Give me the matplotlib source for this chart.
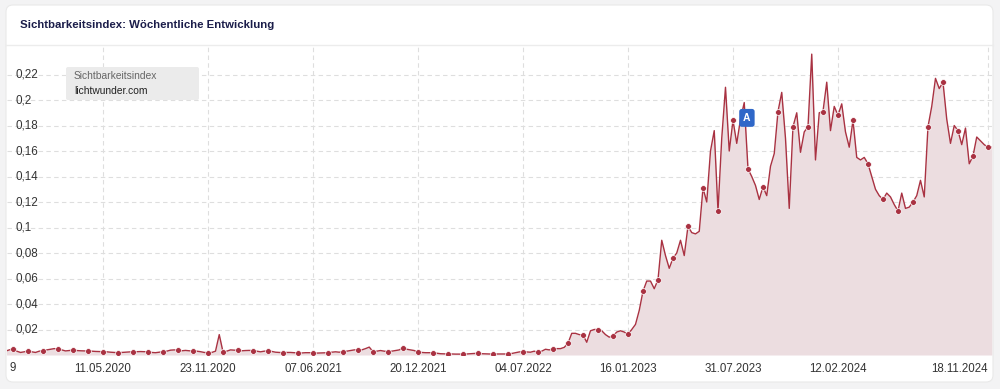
import numpy as np
import pandas as pd
import matplotlib
matplotlib.use("Agg")
import matplotlib.pyplot as plt
from matplotlib.patches import FancyBboxPatch
from matplotlib.transforms import IdentityTransform

plt.rcParams["font.family"] = ["Liberation Sans", "DejaVu Sans"]

# weekly visibility index, starting Monday 11.11.2019
start = "2019-11-11"
values = [
    0.0030, 0.0040, 0.0047, 0.0030, 0.0020, 0.0025, 0.0031, 0.0025, 0.0020, 0.0030,
    0.0034, 0.0040, 0.0045, 0.0050, 0.0047, 0.0040, 0.0032, 0.0035, 0.0039, 0.0035,
    0.0033, 0.0032, 0.0031, 0.0030, 0.0028, 0.0027, 0.0026, 0.0025, 0.0022, 0.0020,
    0.0018, 0.0020, 0.0022, 0.0024, 0.0026, 0.0026, 0.0027, 0.0026, 0.0026, 0.0020,
    0.0018, 0.0022, 0.0026, 0.0030, 0.0038, 0.0040, 0.0037, 0.0033, 0.0036, 0.0033,
    0.0031, 0.0030, 0.0026, 0.0020, 0.0018, 0.0020, 0.0030, 0.0160, 0.0024, 0.0030,
    0.0040, 0.0038, 0.0037, 0.0033, 0.0035, 0.0036, 0.0034, 0.0030, 0.0025, 0.0030,
    0.0031, 0.0028, 0.0022, 0.0020, 0.0018, 0.0020, 0.0020, 0.0018, 0.0016, 0.0016,
    0.0018, 0.0018, 0.0018, 0.0015, 0.0016, 0.0017, 0.0018, 0.0022, 0.0025, 0.0022,
    0.0026, 0.0030, 0.0035, 0.0040, 0.0042, 0.0040, 0.0050, 0.0062, 0.0026, 0.0030,
    0.0035, 0.0030, 0.0026, 0.0030, 0.0035, 0.0040, 0.0057, 0.0045, 0.0040, 0.0035,
    0.0021, 0.0020, 0.0018, 0.0018, 0.0018, 0.0014, 0.0010, 0.0009, 0.0008, 0.0008,
    0.0007, 0.0007, 0.0006, 0.0008, 0.0010, 0.0012, 0.0013, 0.0010, 0.0009, 0.0008,
    0.0008, 0.0008, 0.0008, 0.0008, 0.0008, 0.0012, 0.0018, 0.0024, 0.0026, 0.0024,
    0.0022, 0.0030, 0.0020, 0.0030, 0.0045, 0.0040, 0.0047, 0.0050, 0.0050, 0.0060,
    0.0092, 0.0170, 0.0170, 0.0160, 0.0157, 0.0100, 0.0190, 0.0200, 0.0200, 0.0190,
    0.0160, 0.0140, 0.0149, 0.0180, 0.0190, 0.0180, 0.0162, 0.0200, 0.0240, 0.0350,
    0.0500, 0.0580, 0.0580, 0.0520, 0.0590, 0.0900, 0.0780, 0.0680, 0.0760, 0.0800,
    0.0900, 0.0780, 0.1010, 0.0960, 0.0950, 0.0970, 0.1310, 0.1200, 0.1600, 0.1760,
    0.1130, 0.1700, 0.2100, 0.1600, 0.1840, 0.1660, 0.1850, 0.1980, 0.1460, 0.1400,
    0.1330, 0.1220, 0.1320, 0.1250, 0.1480, 0.1580, 0.1910, 0.2060, 0.1700, 0.1150,
    0.1790, 0.1900, 0.1590, 0.1750, 0.1790, 0.2360, 0.1530, 0.1900, 0.1910, 0.2140,
    0.1760, 0.1950, 0.1880, 0.1970, 0.1750, 0.1630, 0.1840, 0.1550, 0.1530, 0.1550,
    0.1500, 0.1400, 0.1300, 0.1250, 0.1220, 0.1270, 0.1240, 0.1180, 0.1130, 0.1270,
    0.1150, 0.1160, 0.1200, 0.1250, 0.1370, 0.1240, 0.1790, 0.1950, 0.2170, 0.2090,
    0.2140, 0.1850, 0.1660, 0.1800, 0.1760, 0.1650, 0.1780, 0.1500, 0.1560, 0.1710,
    0.1680, 0.1650, 0.1630, 0.1630,
]
dates = pd.date_range(start, periods=len(values), freq="7D")

tick_dates = ["2020-05-11", "2020-11-23", "2021-06-07", "2021-12-20", "2022-07-04",
              "2023-01-16", "2023-07-31", "2024-02-12", "2024-11-18"]
ytick_vals = [0.02, 0.04, 0.06, 0.08, 0.1, 0.12, 0.14, 0.16, 0.18, 0.2, 0.22]
ytick_labels = ["0,02", "0,04", "0,06", "0,08", "0,1", "0,12", "0,14", "0,16", "0,18", "0,2", "0,22"]
event_date = "2023-08-26"
event_value = 0.186

RED = "#a93242"
W, H = 1000, 389

fig = plt.figure(figsize=(W / 100, H / 100), dpi=100, facecolor="#f3f3f4")

# white card
card = FancyBboxPatch((6, 7), 987, 377, boxstyle="round,pad=0,rounding_size=7",
                      transform=IdentityTransform(), fc="white", ec="#e9e9e9", lw=0.8, zorder=-10)
fig.add_artist(card)
fig.add_artist(plt.Line2D([6, 993], [H - 45, H - 45], transform=IdentityTransform(),
                          color="#ececec", lw=1, zorder=-9))
fig.text(20 / W, 1 - 25 / H, "Sichtbarkeitsindex: Wöchentliche Entwicklung",
         fontsize=8.2, fontweight="bold", color="#1b1d4a", va="center", ha="left")

ax = fig.add_axes([7 / W, 34 / H, 985 / W, 308 / H])
ax.set_facecolor("none")

ax.fill_between(dates, values, 0, color="#ecdde0", lw=0, zorder=1)
ax.plot(dates, values, color=RED, lw=1.0, zorder=3,
        marker="o", markersize=4.2, markerfacecolor=RED, markeredgecolor="white",
        markeredgewidth=0.5, markevery=slice(2, None, 4))

t0 = pd.Timestamp(start)
ax.set_xlim(t0 + pd.Timedelta(days=0.4 * 7), t0 + pd.Timedelta(days=263.07 * 7))
ax.set_ylim(0, 0.2416)

ax.set_yticks(ytick_vals)
ax.tick_params(axis="y", length=0, labelleft=False)
for v, lab in zip(ytick_vals, ytick_labels):
    ax.text(8 / 985, v, lab, transform=ax.get_yaxis_transform(), ha="left", va="center",
            fontsize=8.4, color="#333333", zorder=4)

ax.set_xticks(pd.to_datetime(tick_dates))
ax.set_xticklabels([pd.Timestamp(d).strftime("%d.%m.%Y") for d in tick_dates])
ax.tick_params(axis="x", length=0, pad=5.5, labelsize=8.3, labelcolor="#333333")
ax.get_xticklabels()[-1].set_ha("right")
fig.text(9 / W, 1 - 368 / H, "9", fontsize=8.3, color="#333333", ha="left", va="center")

ax.grid(True, ls=(0, (4, 3)), color="#dedede", lw=0.8, zorder=0)
ax.set_axisbelow(True)
for s in ax.spines.values():
    s.set_visible(False)

# legend box
fig.add_artist(FancyBboxPatch((66, H - 100), 133, 33, boxstyle="round,pad=0,rounding_size=2",
                              transform=IdentityTransform(), fc="#ebebeb", ec="none", zorder=5))
fig.text(74 / W, 1 - 76 / H, "Sichtbarkeitsindex", fontsize=7.4, color="#666666",
         va="center", ha="left", zorder=6)
fig.text(74 / W, 1 - 91 / H, "lichtwunder.com", fontsize=7.4, color="#222222",
         va="center", ha="left", zorder=6)

# event flag
ax.text(pd.Timestamp(event_date), event_value, "A", ha="center", va="center", color="white",
        fontweight="bold", fontsize=7.5, zorder=6,
        bbox=dict(boxstyle="round,pad=0.38,rounding_size=0.25", fc="#2f67c8", ec="none"))

fig.savefig("out.png", dpi=100, facecolor=fig.get_facecolor())
